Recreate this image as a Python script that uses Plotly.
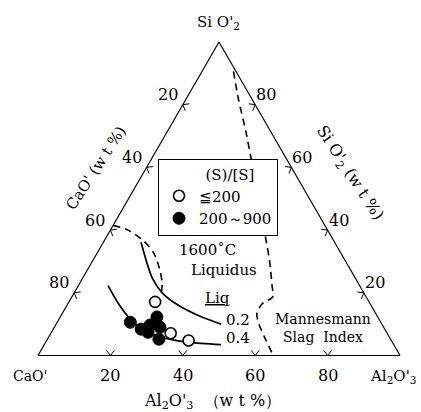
import math
import plotly.graph_objects as go

# Ternary CaO'-SiO2'-Al2O3' (wt %): a = SiO2', b = CaO', c = Al2O3'

# Slag compositions, (S)/[S] <= 200
low_sio2 = [17.1, 7.1, 4.8]
low_cao = [59.1, 59.8, 56.0]
low_al2o3 = [23.8, 33.1, 39.2]

# Slag compositions, (S)/[S] 200-900
high_sio2 = [10.6, 8.4, 9.7, 12.3, 9.0, 5.2, 7.4]
high_cao = [69.2, 67.3, 64.2, 61.0, 61.8, 64.0, 65.9]
high_al2o3 = [20.2, 24.3, 26.1, 26.7, 29.2, 30.8, 26.7]

# Mannesmann slag index contour 0.2
msi02_sio2 = [36.1, 29.7, 24.5, 20.0, 16.1, 12.6, 10.0]
msi02_cao = [53.5, 55.1, 56.1, 55.7, 53.3, 49.1, 44.4]
msi02_al2o3 = [10.4, 15.2, 19.4, 24.3, 30.6, 38.3, 45.6]

# Mannesmann slag index contour 0.4
msi04_sio2 = [22.3, 16.5, 11.6, 7.7, 5.5, 4.2, 3.5]
msi04_cao = [69.5, 69.5, 68.7, 66.6, 62.2, 56.1, 47.7]
msi04_al2o3 = [8.2, 14.0, 19.7, 25.7, 32.3, 39.7, 48.8]

# 1600 C liquidus, lime-rich branch
liqL_sio2 = [41.5, 40.0, 36.5, 32.6, 27.7, 23.2, 19.7]
liqL_cao = [58.5, 55.1, 52.5, 51.7, 52.6, 54.1, 56.1]
liqL_al2o3 = [0.0, 4.9, 11.0, 15.7, 19.7, 22.7, 24.2]

# 1600 C liquidus, silica/alumina-rich branch
liqR_sio2 = [90.6, 81.9, 71.3, 63.5, 37.7, 30.3, 22.3, 18.7, 16.5, 13.5, 10.3, 5.8, 0.0]
liqR_cao = [0.7, 3.7, 6.9, 9.5, 18.3, 20.9, 24.2, 25.8, 29.8, 32.8, 33.9, 34.5, 35.0]
liqR_al2o3 = [8.7, 14.4, 21.8, 27.0, 44.0, 48.8, 53.5, 55.5, 53.7, 53.7, 55.8, 59.7, 65.0]

tick_values = [20, 40, 60, 80]

SERIF = "DejaVu Serif"
W, H = 421, 412

# triangle placement on the page (pixels)
X_LEFT, X_RIGHT, Y_BASE, Y_TOP = 38.0, 400.0, 355.5, 42.0
SIDE = X_RIGHT - X_LEFT
TRI_H = Y_BASE - Y_TOP


def px(x, y):
    return x / W, 1 - y / H


def comp_to_px(si, ca, al):
    x = X_LEFT + (al + si / 2) / 100 * SIDE
    y = Y_BASE - si / 100 * TRI_H
    return x, y


def shift(dx, dy):
    """Screen offset (percent of side, y up) -> ternary offsets (si, ca, al)."""
    dsi = dy * 2 / math.sqrt(3)
    dal = dx - dsi / 2
    return dsi, -dsi - dal, dal


def arrow_marks(tips, inward_deg, arm=1.8, spread=38):
    a, b, c = [], [], []
    for si, ca, al in tips:
        pts = []
        for sgn in (1, 0, -1):
            if sgn == 0:
                pts.append((si, ca, al))
                continue
            ang = math.radians(inward_deg + sgn * spread)
            d = shift(arm * math.cos(ang), arm * math.sin(ang))
            pts.append((si + d[0], ca + d[1], al + d[2]))
        for p in pts:
            a.append(p[0]); b.append(p[1]); c.append(p[2])
        a.append(None); b.append(None); c.append(None)
    return a, b, c


fig = go.Figure()

line_black = dict(color="black", width=1.7)
dash_black = dict(color="black", width=1.6, dash="7px,5px")

for s, ca, al in [(liqL_sio2, liqL_cao, liqL_al2o3), (liqR_sio2, liqR_cao, liqR_al2o3)]:
    fig.add_trace(go.Scatterternary(a=s, b=ca, c=al, mode="lines",
                                    line=dict(**dash_black, shape="spline", smoothing=0.8),
                                    showlegend=False, hoverinfo="skip"))

for s, ca, al in [(msi02_sio2, msi02_cao, msi02_al2o3), (msi04_sio2, msi04_cao, msi04_al2o3)]:
    fig.add_trace(go.Scatterternary(a=s, b=ca, c=al, mode="lines",
                                    line=dict(**line_black, shape="spline", smoothing=0.8),
                                    showlegend=False, hoverinfo="skip"))

# arrow-shaped ticks on the three edges
bottom_tips = [(0, 100 - v, v) for v in tick_values]
left_tips = [(100 - v, v, 0) for v in tick_values]
right_tips = [(v, 0, 100 - v) for v in tick_values]
for tips, inward in [(bottom_tips, 90), (left_tips, -30), (right_tips, 210)]:
    ta, tb, tc = arrow_marks(tips, inward)
    fig.add_trace(go.Scatterternary(a=ta, b=tb, c=tc, mode="lines",
                                    line=dict(color="black", width=1),
                                    showlegend=False, hoverinfo="skip"))

fig.add_trace(go.Scatterternary(
    a=low_sio2, b=low_cao, c=low_al2o3, mode="markers", name="≦200",
    marker=dict(symbol="circle", size=11, color="white", line=dict(color="black", width=1.6))))
fig.add_trace(go.Scatterternary(
    a=high_sio2, b=high_cao, c=high_al2o3, mode="markers", name="200～900",
    marker=dict(symbol="circle", size=12, color="black", line=dict(color="black", width=1))))

axis_common = dict(
    showgrid=False, showline=True, linecolor="black", linewidth=1.2,
    ticks="", showticklabels=False, title=dict(text=""),
)

fig.update_layout(
    width=W, height=H,
    margin=dict(l=0, r=0, t=0, b=0),
    paper_bgcolor="white",
    font=dict(family=SERIF, color="black"),
    ternary=dict(
        sum=100,
        bgcolor="white",
        domain=dict(x=[X_LEFT / W, X_RIGHT / W], y=[(H - Y_BASE) / H, (H - Y_TOP) / H]),
        aaxis=axis_common, baxis=axis_common, caxis=axis_common,
    ),
    legend=dict(
        x=158 / W, y=1 - 159 / H, xanchor="left", yanchor="top",
        bgcolor="white", bordercolor="black", borderwidth=1,
        font=dict(family=SERIF, size=15, color="black"),
        title=dict(text="\u00a0\u00a0\u00a0\u00a0\u00a0(S)/[S]", side="top center",
                   font=dict(family=SERIF, size=15, color="black")),
        tracegroupgap=0,
    ),
)


def note(text, x, y, size, angle=0, xanchor="center"):
    xp, yp = px(x, y)
    fig.add_annotation(text=text, x=xp, y=yp, xref="paper", yref="paper",
                       xanchor=xanchor, yanchor="middle",
                       showarrow=False, textangle=angle,
                       font=dict(family=SERIF, size=size, color="black"))


# tick labels: CaO' on the left edge, SiO2' on the right edge, Al2O3' along the base
for v in tick_values:
    x, y = comp_to_px(100 - v, v, 0)
    note(str(v), x - 3, y - 10, 16, xanchor="right")
    x, y = comp_to_px(v, 0, 100 - v)
    note(str(v), x - 1, y - 10, 16, xanchor="left")
    x, y = comp_to_px(0, 100 - v, v)
    note(str(v), x, y + 20, 16)

notes = [
    ("Si O'<sub>2</sub>", 219, 23, 0, 15),
    ("CaO'", 30, 376, 0, 14),
    ("Al<sub>2</sub>O'<sub>3</sub>", 393, 376, 0, 15),
    ("Al<sub>2</sub>O'<sub>3</sub>\u00a0\u00a0（w t %）", 212, 401, 0, 16),
    ("CaO'\u00a0(w t %)", 96, 168, -57, 15),
    ("Si O'<sub>2</sub>\u00a0(w t %)", 349, 173, 57, 16),
    ("1600˚C", 207, 250, 0, 15),
    ("Liquidus", 224, 270, 0, 15),
    ("<u>Liq</u>", 217, 298, 0, 15),
    ("0.2", 238, 320, 0, 15),
    ("0.4", 238, 338, 0, 15),
    ("Mannesmann", 323, 319, 0, 14),
    ("Slag\u00a0\u00a0Index", 323, 337, 0, 14),
]
for text, x, y, ang, size in notes:
    note(text, x, y, size, angle=ang)

fig.write_html("out.html")
